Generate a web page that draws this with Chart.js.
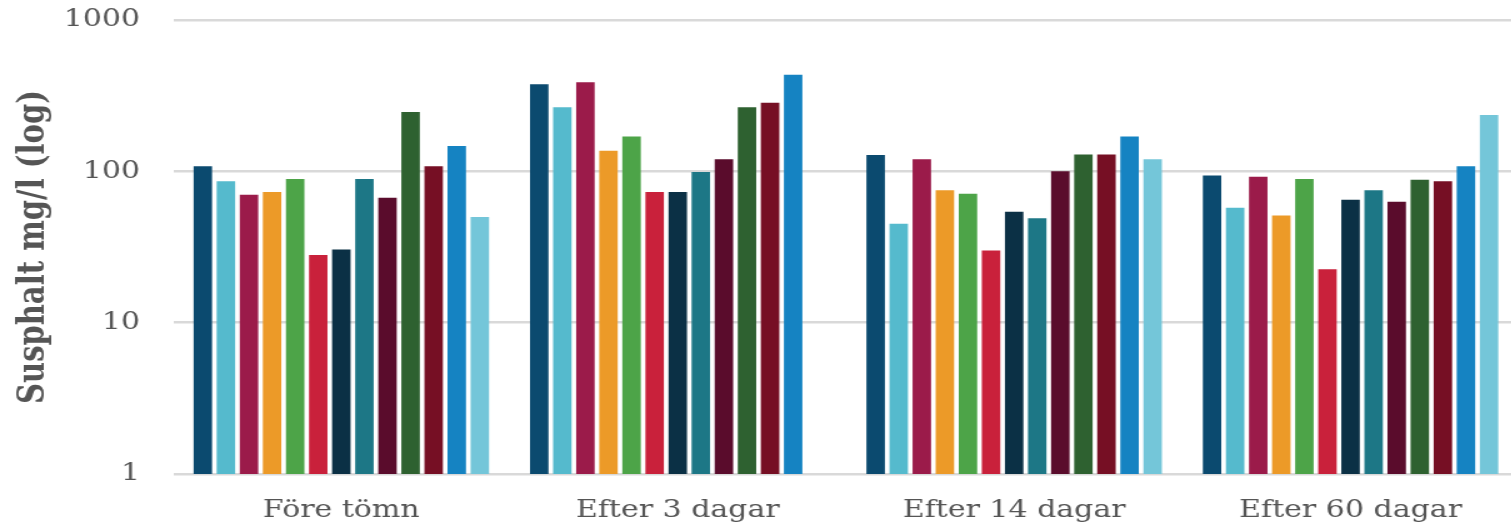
<!DOCTYPE html>
<html>
<head>
<meta charset="utf-8">
<script src="https://cdn.jsdelivr.net/npm/chart.js@4/dist/chart.umd.min.js"></script>
<style>
  html, body { margin: 0; padding: 0; background: #fff; overflow: hidden; }
  #wrap { width: 1215px; height: 525px; transform: scaleX(1.25); transform-origin: 0 0; }
</style>
</head>
<body>
<div id="wrap"><canvas id="chart" width="1215" height="525"></canvas></div>
<script>
// categories on the x axis
const categories = ['Före tömn', 'Efter 3 dagar', 'Efter 14 dagar', 'Efter 60 dagar'];

// one value per series (13 series)
const foreTomn  = [108, 86, 70, 73, 89, 28, 30.5, 89, 67, 247, 108, 147, 50];
const efter3    = [376, 265, 388, 137, 170, 73, 73, 99, 120, 265, 284, 435, null];
const efter14   = [128, 45, 120, 75, 71, 30, 54, 49, 100, 129, 129, 170, 120];
const efter60   = [94, 57.5, 92, 51, 89, 22.5, 65, 75, 63, 88, 86, 108, 236];

const yTicks = [1, 10, 100, 1000];
const yTitle = 'Susphalt mg/l (log)';

const colors = ['#0b4a6f', '#55bacd', '#9b1b4a', '#ec9a28', '#4da448', '#c9213b', '#0b3045',
                '#1d7786', '#5a0c2c', '#2e6130', '#760f24', '#1583c2', '#74c6d9'];

const groups = [foreTomn, efter3, efter14, efter60];
const datasets = colors.map((c, i) => ({
    label: 'Serie ' + (i + 1),
    data: groups.map(g => g[i]),
    backgroundColor: c,
    borderWidth: 0,
    barPercentage: 0.8,
    categoryPercentage: 0.892
}));

const textColor = '#555555';

new Chart(document.getElementById('chart').getContext('2d'), {
    type: 'bar',
    data: { labels: categories, datasets: datasets },
    options: {
        responsive: false,
        animation: false,
        devicePixelRatio: 1,
        layout: { padding: { top: 20, right: 0, bottom: 0, left: 0 } },
        plugins: { legend: { display: false }, tooltip: { enabled: false } },
        scales: {
            x: {
                grid: { display: false },
                border: { display: false },
                ticks: {
                    color: textColor,
                    padding: 14,
                    font: { family: 'DejaVu Serif', size: 24 }
                },
                afterFit: s => { s.height = 51; }
            },
            y: {
                type: 'logarithmic',
                min: 1,
                max: 1000,
                afterBuildTicks: s => { s.ticks = yTicks.map(v => ({ value: v })); },
                grid: { color: '#d9d9d9', lineWidth: 2.5, drawTicks: false },
                border: { display: false },
                ticks: {
                    color: textColor,
                    padding: 26.5,
                    font: { family: 'DejaVu Serif', size: 24 },
                    callback: v => String(v)
                },
                title: {
                    display: true,
                    text: yTitle,
                    color: textColor,
                    padding: { top: 10, bottom: 0 },
                    font: { family: 'DejaVu Serif', size: 29, weight: 'bold' }
                },
                afterFit: s => {
                    s.width = 138.5;
                    // tick padding is horizontal here, keep it out of the top/bottom padding
                    s.paddingTop = 14;
                    s.paddingBottom = 14;
                }
            }
        }
    }
});
</script>
</body>
</html>
